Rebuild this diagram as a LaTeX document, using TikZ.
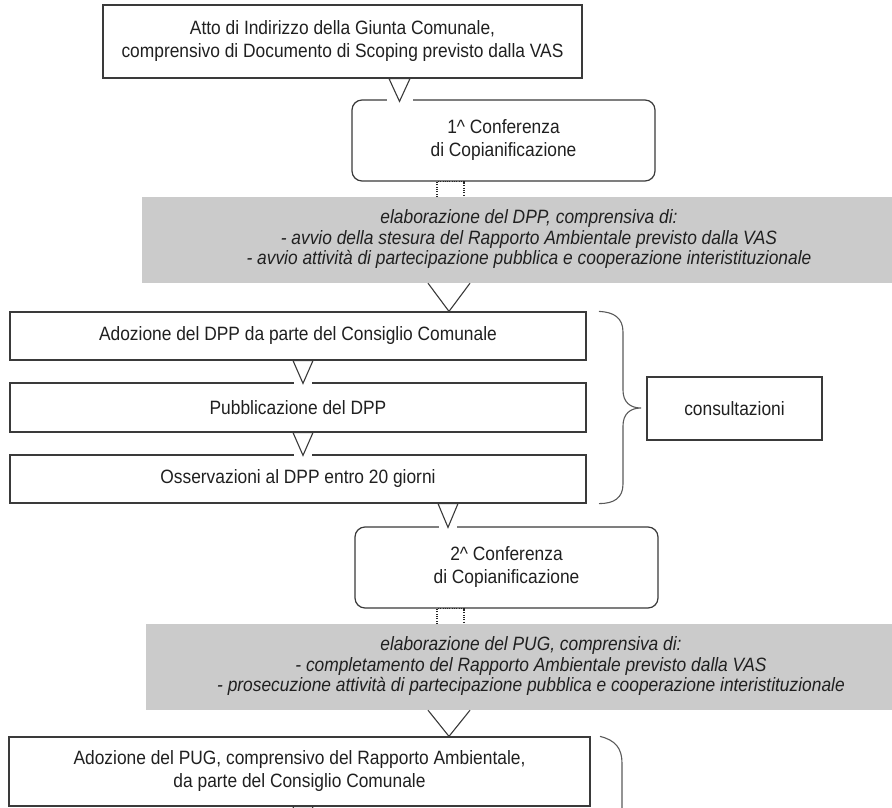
\documentclass[tikz,border=0pt]{standalone}
\usepackage{fontspec}
\setmainfont{Liberation Sans}[FakeStretch=0.9]
\usetikzlibrary{calc}
\definecolor{ln}{HTML}{3A3A3A}
\definecolor{gr}{HTML}{CBCBCB}
\definecolor{tx}{HTML}{202020}
\definecolor{brc}{HTML}{5A5A5A}
\begin{document}
\begin{tikzpicture}[x=1pt,y=-1pt,
  font=\fontsize{19.3}{23}\selectfont, text=tx,
  box/.style={draw=ln, line width=1.2pt, fill=white, inner sep=0pt, align=center},
  rbox/.style={box, rounded corners=10pt},
  graybox/.style={fill=gr, draw=none, inner sep=0pt, align=center,
    font=\fontsize{19.3}{20.5}\selectfont\itshape, minimum height=86pt},
  tri/.style={draw=ln, line width=1.1pt, fill=white, line join=miter},
  vee/.style={draw=ln, line width=1.1pt},
  gap/.style={draw=white, line width=4pt},
  dotc/.style={draw=black!85, line width=1.5pt, dash pattern=on 1pt off 1.3pt},
  brace/.style={draw=brc, line width=1.1pt}
]
\useasboundingbox (0,0) rectangle (892,808);
\clip (0,0) rectangle (892,808);

% nodes
\node[box, minimum width=479pt, minimum height=73pt] (b1) at (342.5,41.5)
  {Atto di Indirizzo della Giunta Comunale,\\comprensivo di Documento di Scoping previsto dalla VAS};
\node[rbox, minimum width=303pt, minimum height=81pt] (c1) at (503.5,140.5)
  {\raisebox{4pt}{\begin{tabular}{@{}c@{}}1\textasciicircum{} Conferenza\\di Copianificazione\end{tabular}}};
\node[graybox, minimum width=774pt] (g1) at (529,240)
  {\raisebox{3pt}{\begin{tabular}{@{}c@{}}elaborazione del DPP, comprensiva di:\\- avvio della stesura del Rapporto Ambientale previsto dalla VAS\\- avvio attività di partecipazione pubblica e cooperazione interistituzionale\end{tabular}}};
\node[box, minimum width=576pt, minimum height=48pt] (a1) at (298,336)
  {Adozione del DPP da parte del Consiglio Comunale};
\node[box, minimum width=576pt, minimum height=49pt] (p1) at (298,407.5)
  {Pubblicazione del DPP};
\node[box, minimum width=576pt, minimum height=48pt] (o1) at (298,479)
  {Osservazioni al DPP entro 20 giorni};
\node[box, minimum width=175pt, minimum height=63pt] (cons) at (734.5,408.5)
  {consultazioni};
\node[rbox, minimum width=303pt, minimum height=81pt] (c2) at (506.5,567.5)
  {\raisebox{4pt}{\begin{tabular}{@{}c@{}}2\textasciicircum{} Conferenza\\di Copianificazione\end{tabular}}};
\node[graybox, minimum width=770pt] (g2) at (531,667)
  {\raisebox{2pt}{\begin{tabular}{@{}c@{}}elaborazione del PUG, comprensiva di:\\- completamento del Rapporto Ambientale previsto dalla VAS\\- prosecuzione attività di partecipazione pubblica e cooperazione interistituzionale\end{tabular}}};
\node[box, minimum width=581pt, minimum height=69pt] (a2) at (299.5,771.5)
  {Adozione del PUG, comprensivo del Rapporto Ambientale,\\da parte del Consiglio Comunale};
\coordinate (nx) at (303,840);

% triangle b1 -> c1
\coordinate (t1) at ($(399.5,0 |- c1.north)+(0,2)$);
\draw[gap] ($(t1)+(-13,-2)$) -- ($(t1)+(13,-2)$);
\draw[tri] (389,0 |- b1.south) -- (410,0 |- b1.south) -- (t1) -- cycle;

% dotted c1 -> g1
\draw[dotc] (437,0 |- g1.north) -- (437,0 |- c1.south) -- (464,0 |- c1.south) -- (464,0 |- g1.north);

% vee g1 -> a1
\coordinate (t2) at (449,0 |- a1.north);
\draw[vee] (428,0 |- g1.south) -- (t2) -- (470,0 |- g1.south);

% small triangles
\coordinate (t3) at ($(303,0 |- p1.north)+(0,1)$);
\draw[gap] ($(t3)+(-9,-1)$) -- ($(t3)+(9,-1)$);
\draw[tri] (293,0 |- a1.south) -- (313,0 |- a1.south) -- (t3) -- cycle;
\coordinate (t4) at ($(303,0 |- o1.north)+(0,1)$);
\draw[gap] ($(t4)+(-9,-1)$) -- ($(t4)+(9,-1)$);
\draw[tri] (293,0 |- p1.south) -- (313,0 |- p1.south) -- (t4) -- cycle;

% triangle o1 -> c2
\coordinate (t5) at ($(448,0 |- c2.north)+(0,1)$);
\draw[gap] ($(t5)+(-9,-1)$) -- ($(t5)+(9,-1)$);
\draw[tri] (438,0 |- o1.south) -- (458,0 |- o1.south) -- (t5) -- cycle;

% dotted c2 -> g2
\draw[dotc] (437,0 |- g2.north) -- (437,0 |- c2.south) -- (464,0 |- c2.south) -- (464,0 |- g2.north);

% vee g2 -> a2
\coordinate (t6) at (449,0 |- a2.north);
\draw[vee] (428,0 |- g2.south) -- (t6) -- (470,0 |- g2.south);

% triangle a2 -> next (cut)
\draw[tri] (293,0 |- a2.south) -- (313,0 |- a2.south) -- (nx) -- cycle;

% brace for consultazioni
\draw[brace] (599,0 |- a1.north) .. controls (614,312) and (623,318) .. (623,332)
  -- (623,390) .. controls (623,402) and (630,408) .. (641,408)
  .. controls (630,408) and (623,414) .. (623,426)
  -- (623,484) .. controls (623,498) and (614,0 |- o1.south) .. (599,0 |- o1.south);

% second brace (cut)
\draw[brace] (600,0 |- a2.north) .. controls (615,740) and (622,748) .. (622,763) -- (622,830);
\end{tikzpicture}
\end{document}
